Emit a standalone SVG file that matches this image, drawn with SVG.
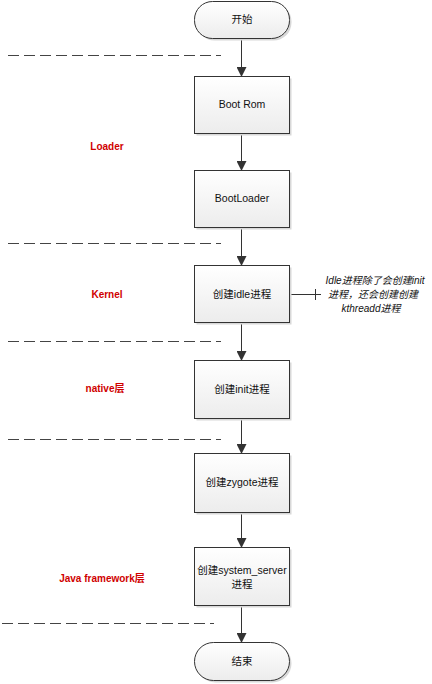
<svg xmlns="http://www.w3.org/2000/svg" width="432" height="684" viewBox="0 0 432 684">
<defs>
<linearGradient id="g" x1="0" y1="0" x2="0" y2="1"><stop offset="0" stop-color="#ffffff"/><stop offset="1" stop-color="#ececec"/></linearGradient>
<marker id="ah" markerWidth="10" markerHeight="10" refX="9" refY="5" orient="auto" markerUnits="userSpaceOnUse"><path d="M0,0 L10,5 L0,10 z" fill="#333"/></marker>
</defs>
<style>
.n{fill:url(#g);stroke:#333;stroke-width:1}
.sh{fill:#d8d8d8}
.t{font-family:"Liberation Sans","Noto Sans CJK SC",sans-serif;font-size:10.5px;fill:#111;text-anchor:middle}
.l{font-family:"Liberation Sans","Noto Sans CJK SC",sans-serif;font-size:10px;font-weight:bold;fill:#d00000;text-anchor:middle}
.a{font-family:"Liberation Sans","Noto Sans CJK SC",sans-serif;font-size:10px;font-style:italic;fill:#111;text-anchor:middle}
.d{stroke:#444;stroke-width:1;stroke-dasharray:11,5;fill:none}
.c{stroke:#333;stroke-width:1;fill:none}
</style>
<g id="dividers">
<line class="d" x1="8" y1="55.5" x2="221" y2="55.5"/>
<line class="d" x1="8" y1="243.5" x2="221" y2="243.5"/>
<line class="d" x1="8" y1="341.5" x2="221" y2="341.5"/>
<line class="d" x1="8" y1="439.5" x2="221" y2="439.5"/>
<line class="d" x1="2" y1="623.5" x2="214" y2="623.5"/>
</g>
<g id="labels">
<text class="l" x="107" y="150">Loader</text>
<text class="l" x="107" y="298">Kernel</text>
<text class="l" x="105" y="392">native层</text>
<text class="l" x="102" y="582">Java framework层</text>
</g>
<g id="connectors">
<line class="c" x1="241.5" y1="38" x2="241.5" y2="76" marker-end="url(#ah)"/>
<line class="c" x1="241.5" y1="133" x2="241.5" y2="170" marker-end="url(#ah)"/>
<line class="c" x1="241.5" y1="227" x2="241.5" y2="265" marker-end="url(#ah)"/>
<line class="c" x1="241.5" y1="322" x2="241.5" y2="360" marker-end="url(#ah)"/>
<line class="c" x1="241.5" y1="418" x2="241.5" y2="453" marker-end="url(#ah)"/>
<line class="c" x1="241.5" y1="512" x2="241.5" y2="547" marker-end="url(#ah)"/>
<line class="c" x1="241.5" y1="605" x2="241.5" y2="642" marker-end="url(#ah)"/>
<line class="c" x1="289" y1="294.5" x2="321" y2="294.5"/>
<line class="c" x1="315.5" y1="289" x2="315.5" y2="300"/>
</g>
<g id="start">
<rect class="sh" x="196.5" y="3.5" width="95" height="37" rx="18"/>
<rect class="n" x="194.5" y="1.5" width="95" height="37" rx="18"/>
<text class="t" x="242" y="23">开始</text>
</g>
<g id="bootrom">
<rect class="sh" x="196.5" y="78.5" width="95" height="57"/>
<rect class="n" x="194.5" y="76.5" width="95" height="57"/>
<text class="t" x="242" y="108">Boot Rom</text>
</g>
<g id="bootloader">
<rect class="sh" x="196.5" y="172.5" width="95" height="57"/>
<rect class="n" x="194.5" y="170.5" width="95" height="57"/>
<text class="t" x="242" y="202">BootLoader</text>
</g>
<g id="idle">
<rect class="sh" x="196.5" y="267.5" width="95" height="57"/>
<rect class="n" x="194.5" y="265.5" width="95" height="57"/>
<text class="t" x="242" y="298">创建idle进程</text>
</g>
<g id="note">
<text class="a" x="375" y="284">Idle进程除了会创建init</text>
<text class="a" x="373" y="298">进程，还会创建创建</text>
<text class="a" x="371" y="312">kthreadd进程</text>
</g>
<g id="init">
<rect class="sh" x="196.5" y="362.5" width="95" height="58"/>
<rect class="n" x="194.5" y="360.5" width="95" height="58"/>
<text class="t" x="242" y="393">创建init进程</text>
</g>
<g id="zygote">
<rect class="sh" x="196.5" y="455.5" width="95" height="59"/>
<rect class="n" x="194.5" y="453.5" width="95" height="59"/>
<text class="t" x="242" y="486">创建zygote进程</text>
</g>
<g id="system_server">
<rect class="sh" x="196.5" y="549.5" width="95" height="58"/>
<rect class="n" x="194.5" y="547.5" width="95" height="58"/>
<text class="t" x="242" y="574">创建system_server</text>
<text class="t" x="242" y="588">进程</text>
</g>
<g id="end">
<rect class="sh" x="196.5" y="644.5" width="95" height="38" rx="19"/>
<rect class="n" x="194.5" y="642.5" width="95" height="38" rx="19"/>
<text class="t" x="242" y="665">结束</text>
</g>
</svg>
